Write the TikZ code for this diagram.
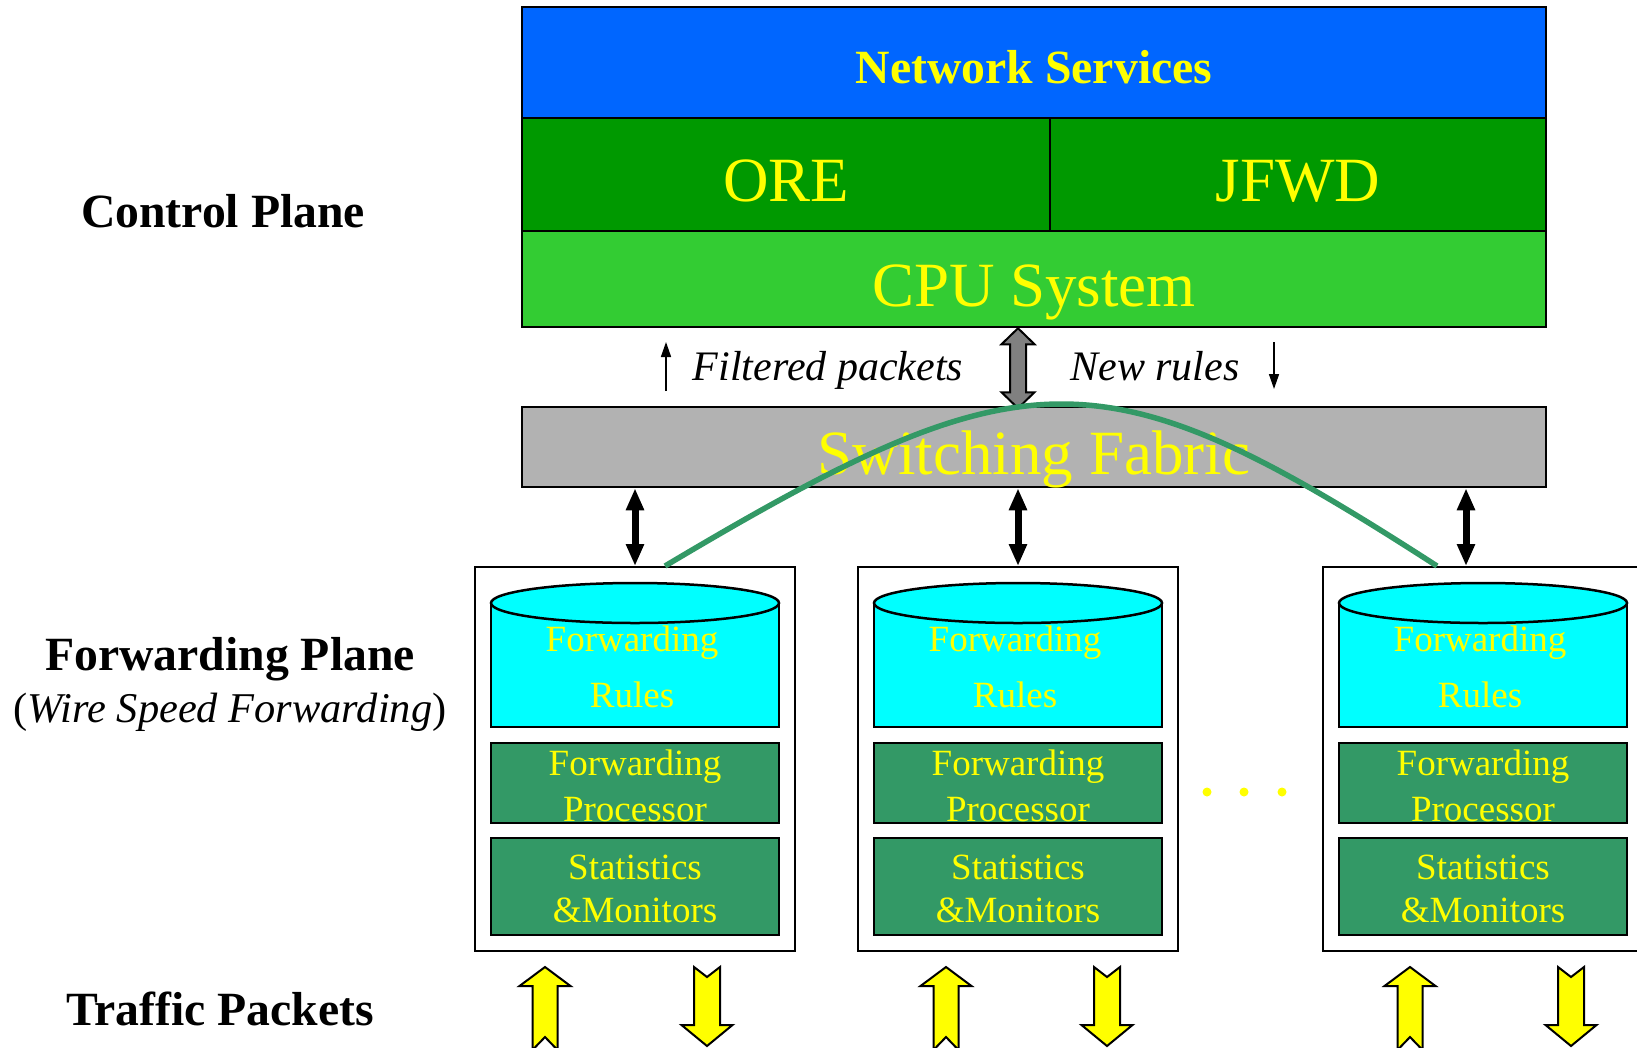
\documentclass[tikz,border=0pt]{standalone}
\usepackage{fontspec}
\setmainfont{Liberation Serif}
\usetikzlibrary{arrows.meta}

\definecolor{svcblue}{RGB}{0,102,255}
\definecolor{oregreen}{RGB}{0,153,0}
\definecolor{cpugreen}{RGB}{51,204,51}
\definecolor{fabgray}{RGB}{178,178,178}
\definecolor{arrgray}{RGB}{128,128,128}
\definecolor{procgreen}{RGB}{51,153,102}
\definecolor{rulecyan}{RGB}{0,255,255}
\definecolor{txtyellow}{RGB}{255,255,0}

\newcommand{\fsz}[2]{\fontsize{#1}{#2}\selectfont}

\begin{document}
\begin{tikzpicture}[x=1pt, y=-1pt,
    tierbox/.style={draw, line width=2.5pt, inner sep=0pt, text=txtyellow, text depth=0pt},
    unitbox/.style={draw, line width=2pt, inner sep=0pt, minimum width=320pt, minimum height=384pt},
    procbox/.style={draw, line width=2.5pt, fill=procgreen, inner sep=0pt, minimum width=288pt, text=txtyellow, align=center},
    sidelabel/.style={anchor=base, font=\fsz{47.7}{50}\bfseries},
    biarrow/.style={line width=7pt, {Triangle[width=17pt,length=22pt]}-{Triangle[width=17pt,length=22pt]}},
    thinarrow/.style={line width=1.6pt, -{Triangle[width=10pt,length=15pt]}},
    blockarrow/.style={fill=txtyellow, draw, line width=2pt, line join=miter}]
        \useasboundingbox (0,0) rectangle (1637,1047);

        % control plane
        \node[tierbox, fill=svcblue, minimum width=1024pt, minimum height=111pt, text height=41pt, font=\fsz{47.7}{50}\bfseries] (svc) at (1034,62.5) {Network Services};
        \node[tierbox, fill=oregreen, minimum width=528pt, minimum height=113pt, text height=54pt, font=\fsz{63}{66}] (ore) at (786,174.5) {ORE};
        \node[tierbox, fill=oregreen, minimum width=496pt, minimum height=113pt, text height=54pt, font=\fsz{63}{66}] (jfwd) at (1298,174.5) {JFWD};
        \node[tierbox, fill=cpugreen, minimum width=1024pt, minimum height=96pt, text height=54pt, font=\fsz{63}{66}] (cpu) at (1034,279) {CPU System};
        \node[tierbox, fill=fabgray, minimum width=1024pt, minimum height=80pt, text height=54pt, font=\fsz{63}{66}] (fab) at (1034,447) {Switching Fabric};

        \filldraw[fill=arrgray, line width=2pt] (cpu.south -| 1018,0) -- ++(16.5,16) -- ++(-8.5,0) -- ++(0,48) -- ++(8.5,0)
            -- ++(-16.5,16) -- ++(-16.5,-16) -- ++(8.5,0) -- ++(0,-48) -- ++(-8.5,0) -- cycle;

        \node[anchor=base, font=\fsz{42}{45}\itshape] (filt) at (828,380) {Filtered packets};
        \node[anchor=base, font=\fsz{42}{45}\itshape] (newr) at (1155,380) {New rules};
        \coordinate (filtlo) at (666,391);
        \coordinate (filthi) at (666,342);
        \coordinate (newhi) at (1274,342);
        \coordinate (newlo) at (1274,389);
        \draw[thinarrow] (filtlo) -- (filthi);
        \draw[thinarrow] (newhi) -- (newlo);

        % forwarding units
        \foreach \dx/\ax [count=\n] in {0/635, 383/1018, 848/1466} {
            \node[unitbox] (unit\n) at (635+\dx,759) {};
            \fill[rulecyan] (491+\dx,603) rectangle (779+\dx,727);
            \draw[line width=2.5pt] (491+\dx,603) -- (491+\dx,727) -- (779+\dx,727) -- (779+\dx,603);
            \filldraw[fill=rulecyan, line width=2.5pt] (635+\dx,603) ellipse [x radius=144pt, y radius=20pt];
            \node[align=center, text=txtyellow, font=\fsz{37}{56}] (rules\n) at (632+\dx,666.5) {Forwarding\\Rules};
            \node[procbox, minimum height=80pt, font=\fsz{37}{46}] (proc\n) at (635+\dx,783) {};
            \node[align=center, text=txtyellow, font=\fsz{37}{46}] (proctxt\n) at (635+\dx,786) {Forwarding\\Processor};
            \node[procbox, minimum height=97pt, font=\fsz{37}{43}] (stat\n) at (635+\dx,886.5) {};
            \node[align=center, text=txtyellow, font=\fsz{37}{43}] (stattxt\n) at (635+\dx,889) {Statistics\\\&Monitors};
            \draw[biarrow] (fab.south -| \ax,0) -- (unit\n.north -| \ax,0);
        }

        \draw[procgreen, line width=5.5pt] (unit1.north -| 665,0) .. controls (1028,350) and (1102,350) .. (unit3.north -| 1437,0);

        \foreach \x in {1207,1244,1282}
            \fill[txtyellow] (\x,792) circle (4.5pt);

        % traffic packets
        \foreach \ux/\vx in {545/707, 946/1107, 1410/1571} {
            \filldraw[blockarrow] (\ux,967) -- (\ux+25.5,986) -- (\ux+12.5,986) -- (\ux+12.5,1050) -- (\ux,1037)
                -- (\ux-12.5,1050) -- (\ux-12.5,986) -- (\ux-25.5,986) -- cycle;
            \filldraw[blockarrow] (\vx-13,967) -- (\vx,977) -- (\vx+13,967) -- (\vx+13,1025) -- (\vx+25.5,1025)
                -- (\vx,1046) -- (\vx-25.5,1025) -- (\vx-13,1025) -- cycle;
        }

        % side labels
        \node[sidelabel] (ctrl) at (223,227) {Control Plane};
        \node[sidelabel] (fwd) at (230,670) {Forwarding Plane};
        \node[anchor=base, font=\fsz{42.4}{45}] (wire) at (230,722) {(\textit{Wire Speed Forwarding})};
        \node[sidelabel] (traf) at (220,1025) {Traffic Packets};
      \end{tikzpicture}
\end{document}
